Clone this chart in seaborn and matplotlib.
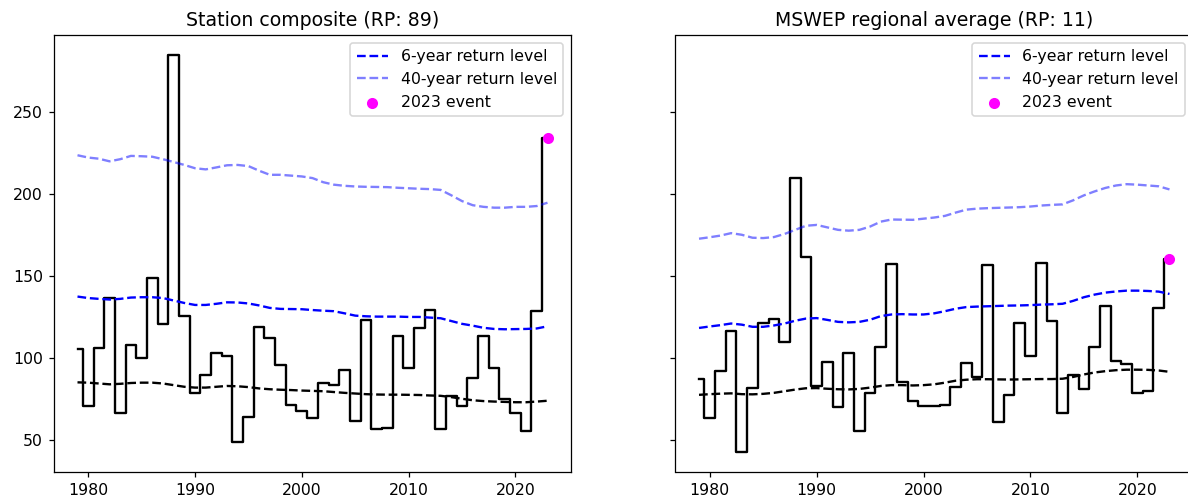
import numpy as np
import pandas as pd
import matplotlib
matplotlib.use("Agg")
import matplotlib.pyplot as plt
import seaborn as sns

years = list(range(1979, 2024))

# Station composite
station_obs = [105.5, 70.5, 106, 136.4, 66.5, 108, 99.8, 148.8, 121, 284.5,
               125.8, 78.7, 89.8, 103, 101, 48.6, 64.2, 119, 112.2, 96,
               71.5, 67.5, 63.4, 84.5, 83.7, 92.7, 61.4, 123.2, 57.1, 57.7,
               113.4, 93.7, 118.3, 129.5, 57.1, 77, 70.5, 88, 113.4, 93.7,
               75, 66.3, 55.3, 128.7, 234]
station_loc = [85.2, 85, 84.5, 84, 84.3, 84.8, 85, 85, 84.5, 83.5,
               82.5, 82, 82, 82.5, 83, 82.8, 82.3, 81.5, 81, 80.7,
               80.5, 80.2, 80, 79.8, 79.3, 78.8, 78.4, 78, 77.8, 77.7,
               77.7, 77.6, 77.5, 77.2, 77, 76.2, 75.2, 74.3, 73.8, 73.5,
               73.3, 73.1, 73.1, 73.5, 74]
station_rl6 = [137.4, 136.5, 136, 135.6, 136, 136.8, 137, 137, 136.5, 135,
               133.5, 132.3, 132.3, 133, 133.9, 133.8, 133.2, 132, 130.5, 129.9,
               129.8, 129.7, 129.2, 128.8, 128.5, 127.2, 125.8, 125.4, 125.2, 125.2,
               125.2, 125, 125, 124.6, 124.2, 122.5, 120.8, 119.7, 118.4, 117.7,
               117.5, 117.6, 117.7, 118, 119.3]
station_rl40 = [223.4, 222, 221.3, 219.7, 221, 223, 222.8, 222.5, 221, 219.3,
                217.5, 215.5, 214.8, 216, 217.3, 217.5, 216.8, 214, 211.5, 211.5,
                211, 210.5, 209.5, 207, 205.5, 204.8, 204.4, 204.2, 204.1, 204,
                203.6, 203.3, 203, 202.8, 202.3, 199, 195.5, 193, 192, 191.5,
                191.5, 192, 192, 192.5, 194.5]
station_event = 234

# MSWEP regional average
mswep_obs = [87.2, 63.8, 92.3, 116.3, 42.9, 81.7, 121.3, 123.8, 110, 209.6,
             161.4, 83.1, 97.8, 69.9, 103, 55.3, 78.7, 106.5, 157.1, 85.2,
             74, 70.5, 70.5, 71.5, 82.1, 97, 88.6, 156.9, 60.8, 77.4,
             121.3, 101.4, 157.7, 122.8, 66.3, 89.8, 81.1, 106.5, 131.5, 98,
             96.3, 78.7, 80.1, 130.5, 160.4]
mswep_loc = [77.6, 78, 78.3, 78.5, 78, 77.9, 78.2, 78.8, 79.8, 80.8,
             81.6, 81.7, 81.3, 81, 80.9, 81.2, 82, 83, 83.5, 83.5,
             83.3, 83.5, 84, 85, 86.2, 86.8, 87.1, 87.1, 87, 86.9,
             87, 87.1, 87.2, 87.2, 87.4, 88.5, 90, 91.2, 92, 92.6,
             92.9, 92.9, 92.8, 92.4, 91.6]
mswep_rl6 = [118.3, 119.2, 120, 121, 120.3, 119, 119, 119.8, 121, 122.7,
             124, 124.3, 123.2, 122, 121.7, 122, 123.3, 125.5, 126.5, 126.7,
             126.5, 126.5, 127.2, 128.5, 130, 131, 131.3, 131.5, 131.7, 131.9,
             132, 132.2, 132.5, 132.7, 133, 134.8, 137, 138.6, 139.8, 140.5,
             141, 141, 140.8, 140.4, 139]
mswep_rl40 = [172.6, 173.5, 174.5, 176, 175, 173.2, 173, 173.6, 175.5, 178,
              180.5, 181, 179.5, 178, 177.5, 178, 180, 183, 184.3, 184.2,
              184.1, 184.8, 185.5, 186.5, 188.5, 190.3, 190.9, 191.2, 191.4, 191.6,
              191.8, 192.2, 192.8, 193.2, 193.5, 196, 199, 201.4, 203.5, 205,
              205.8, 205.5, 205, 204.5, 202.6]
mswep_event = 160.4

titles = ["Station composite (RP: 89)", "MSWEP regional average (RP: 11)"]
rl_labels = ["6-year return level", "40-year return level", "2023 event"]

panels = [
    (station_obs, station_loc, station_rl6, station_rl40, station_event),
    (mswep_obs, mswep_loc, mswep_rl6, mswep_rl40, mswep_event),
]

W, H = 1188, 499
DPI = 113
fig, axes = plt.subplots(1, 2, figsize=(W / DPI, H / DPI), dpi=DPI, sharey=True)

for ax, title, (obs, loc, rl6, rl40, ev) in zip(axes, titles, panels):
    df = pd.DataFrame({"year": years, "obs": obs, "loc": loc, "rl6": rl6, "rl40": rl40})
    sns.lineplot(data=df, x="year", y="obs", ax=ax, color="black",
                 drawstyle="steps-mid", linewidth=1.5)
    sns.lineplot(data=df, x="year", y="loc", ax=ax, color="black",
                 linestyle="--", linewidth=1.5)
    sns.lineplot(data=df, x="year", y="rl6", ax=ax, color="blue",
                 linestyle="--", linewidth=1.5, label=rl_labels[0])
    sns.lineplot(data=df, x="year", y="rl40", ax=ax, color="blue", alpha=0.5,
                 linestyle="--", linewidth=1.5, label=rl_labels[1])
    sns.scatterplot(x=[years[-1]], y=[ev], ax=ax, color="magenta", s=50,
                    linewidth=0, zorder=5, label=rl_labels[2])
    ax.set_title(title, fontsize=12)
    ax.set_xlabel("")
    ax.set_ylabel("")
    ax.legend(loc="upper right")

axes[0].set_position([54 / W, 27.3 / H, 517 / W, 436.7 / H])
axes[1].set_position([675.5 / W, 27.3 / H, 517.5 / W, 436.7 / H])

fig.savefig("out.png", dpi=DPI)
